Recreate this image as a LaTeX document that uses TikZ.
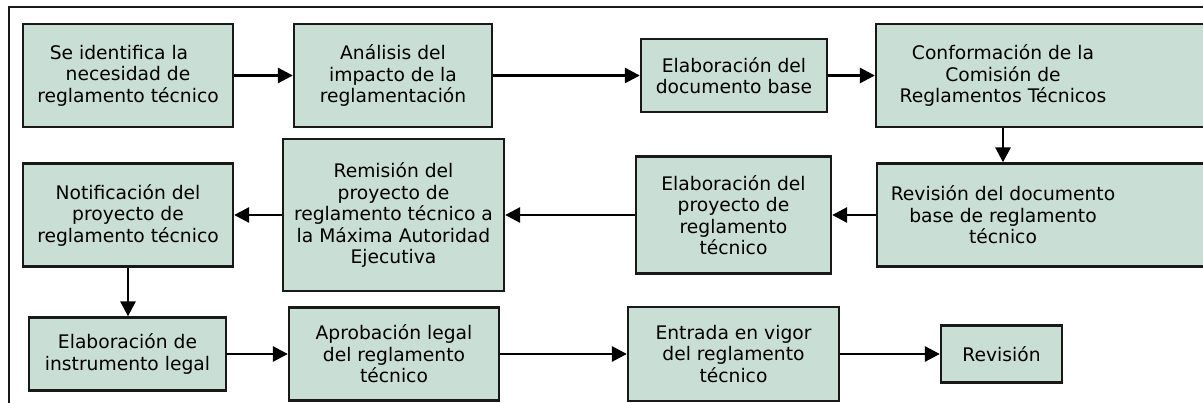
\documentclass[tikz,border=0pt]{standalone}
\usepackage{fontspec}
\setmainfont{DejaVu Sans}
\usetikzlibrary{arrows.meta}
\definecolor{boxfill}{RGB}{201,222,212}
\definecolor{boxline}{RGB}{25,25,25}
\begin{document}
\begin{tikzpicture}[x=1pt,y=-1pt,
  box/.style={draw=boxline, line width=2.3pt, fill=boxfill, rectangle, inner sep=0pt},
  lbl/.style={align=center, inner sep=0pt, font=\fontsize{18.7}{21.5}\selectfont},
  conn/.style={line width=2.8pt, -{Triangle[length=15pt,width=15pt]}}]
\useasboundingbox (0,0) rectangle (1203,403);
\draw[line width=2pt, draw=boxline] (9,412) -- (9,7.5) -- (1212,7.5);
% row 1
\node[box, lbl, minimum width=210pt, minimum height=103pt] (b1) at (128,75.5)
  {Se identifica la\hspace*{18pt}\\necesidad de\hspace*{18pt}\\reglamento técnico};
\node[box, lbl, minimum width=198pt, minimum height=103pt] (b2) at (393,75.5)
  {Análisis del\\impacto de la\\reglamentación};
\node[box, lbl, minimum width=186pt, minimum height=73pt] (b3) at (734,75.5)
  {Elaboración del\\documento base};
\node[box, minimum width=339pt, minimum height=103pt] (b4) at (1045.5,75.5) {};
\node[lbl] (b4t) at (1003,75.5) {Conformación de la\\Comisión de\\Reglamentos Técnicos};
% row 2
\node[box, minimum width=338pt, minimum height=103pt] (b5) at (1046,215) {};
\node[lbl] (b5t) at (1003,215) {Revisión del documento\\base de reglamento\\técnico};
\node[box, lbl, minimum width=195pt, minimum height=117pt] (b6) at (733.5,215)
  {Elaboración del\\proyecto de\\reglamento\\técnico};
\node[box, lbl, minimum width=221pt, minimum height=152pt] (b7) at (393.5,215)
  {Remisión del\\proyecto de\\reglamento técnico a\\la Máxima Autoridad\\Ejecutiva};
\node[box, lbl, minimum width=210pt, minimum height=103pt] (b8) at (128,215)
  {Notificación del\\proyecto de\\reglamento técnico};
% row 3
\node[box, lbl, minimum width=197pt, minimum height=73pt] (b9) at (127.5,354)
  {Elaboración de\\instrumento legal};
\node[box, lbl, minimum width=210pt, minimum height=93pt] (b10) at (394,354)
  {Aprobación legal\\del reglamento\\técnico};
\node[box, lbl, minimum width=211pt, minimum height=94pt] (b11) at (733.5,354)
  {Entrada en vigor\\del reglamento\\técnico};
\node[box, lbl, minimum width=121pt, minimum height=57pt] (b12) at (1001.5,354)
  {Revisión};
% connectors
\draw[conn] (b1) -- (b2);
\draw[conn] (b2) -- (b3);
\draw[conn] (b3) -- (b4);
\draw[conn] (b4.south -| b4t) -- (b5.north -| b4t);
\draw[conn] (b5) -- (b6);
\draw[conn] (b6) -- (b7);
\draw[conn] (b7) -- (b8);
\draw[conn] (b8.south) -- (b8.south |- b9.north);
\draw[conn] (b9) -- (b10);
\draw[conn] (b10) -- (b11);
\draw[conn] (b11) -- (b12);
\end{tikzpicture}
\end{document}
